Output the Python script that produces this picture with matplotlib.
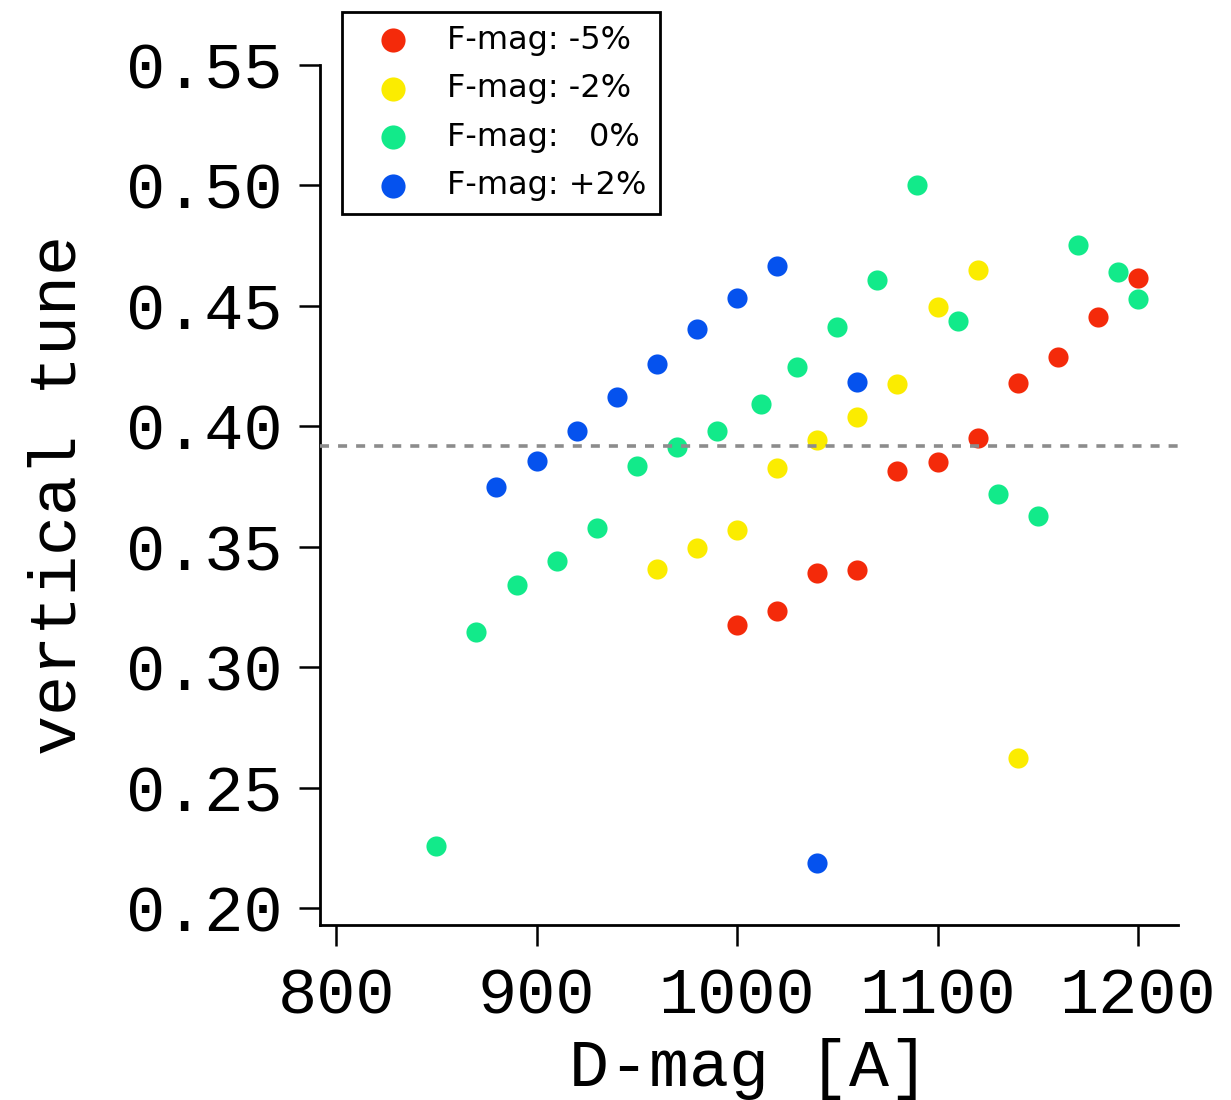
import matplotlib
matplotlib.use("Agg")
import matplotlib.pyplot as plt

# ---- data ----
red_x = [1000, 1020, 1040, 1060, 1080, 1100, 1120, 1140, 1160, 1180, 1200]
red_y = [0.3177, 0.3234, 0.3392, 0.3402, 0.3815, 0.3854, 0.3950, 0.4181, 0.4289, 0.4454, 0.4614]

yellow_x = [960, 980, 1000, 1020, 1040, 1060, 1080, 1100, 1120, 1140]
yellow_y = [0.3408, 0.3493, 0.3568, 0.3825, 0.3942, 0.4040, 0.4174, 0.4494, 0.4647, 0.2622]

green_x = [850, 870, 890, 910, 930, 950, 970, 990, 1012, 1030, 1050, 1070, 1090,
           1110, 1130, 1150, 1170, 1190, 1200]
green_y = [0.2257, 0.3147, 0.3343, 0.3440, 0.3577, 0.3836, 0.3915, 0.3980, 0.4092,
           0.4247, 0.4413, 0.4607, 0.5000, 0.4436, 0.3718, 0.3627, 0.4752, 0.4639, 0.4529]

blue_x = [880, 900, 920, 940, 960, 980, 1000, 1020, 1060, 1040]
blue_y = [0.3750, 0.3855, 0.3980, 0.4120, 0.4258, 0.4404, 0.4532, 0.4665, 0.4184, 0.2186]

labels = ["F-mag: -5%", "F-mag: -2%", "F-mag:   0%", "F-mag: +2%"]
ref_tune = 0.392

x_ticks = [800, 900, 1000, 1100, 1200]
y_ticks = [0.20, 0.25, 0.30, 0.35, 0.40, 0.45, 0.50, 0.55]

colors = {"red": "#f42a0a", "yellow": "#fbec00", "green": "#12ea8a", "blue": "#0552ee"}

fig = plt.figure(figsize=(12.31, 11), dpi=100)
ax = fig.add_axes([0.26, 0.159, 0.697, 0.782])

ms = 210
hg = ax.scatter(green_x, green_y, s=ms, color=colors["green"], label=labels[2], zorder=3, linewidths=0)
hy = ax.scatter(yellow_x, yellow_y, s=ms, color=colors["yellow"], label=labels[1], zorder=3, linewidths=0)
hb = ax.scatter(blue_x, blue_y, s=ms, color=colors["blue"], label=labels[3], zorder=3, linewidths=0)
hr = ax.scatter(red_x, red_y, s=ms, color=colors["red"], label=labels[0], zorder=3, linewidths=0)

ax.axhline(ref_tune, color="#8c8c8c", lw=2.6, ls=(0, (2.5, 2.5)), zorder=4)

ax.set_xlim(792, 1220)
ax.set_ylim(0.193, 0.55)
ax.set_xticks(x_ticks)
ax.set_yticks(y_ticks)
ax.set_yticklabels([f"{v:.2f}" for v in y_ticks])

for s in ["top", "right"]:
    ax.spines[s].set_visible(False)
for s in ["left", "bottom"]:
    ax.spines[s].set_linewidth(2)

mono = "Liberation Mono"
ax.tick_params(axis="both", direction="out", length=15, width=1.8)
ax.tick_params(axis="x", pad=15)
ax.tick_params(axis="y", pad=12)
for lab in ax.get_xticklabels() + ax.get_yticklabels():
    lab.set_fontfamily(mono)
    lab.set_fontsize(47)

ax.set_xlabel("D-mag [A]", fontfamily=mono, fontsize=48, labelpad=8)
ax.set_ylabel("vertical tune", fontfamily=mono, fontsize=48, labelpad=26)

leg = ax.legend(handles=[hr, hy, hg, hb], labels=labels, loc="upper left",
                bbox_to_anchor=(0.0256, 1.0616), borderaxespad=0,
                fancybox=False, edgecolor="black", framealpha=1,
                prop={"family": "DejaVu Sans", "size": 23},
                handletextpad=0.5, labelspacing=0.55, borderpad=0.4,
                handlelength=2.4, markerscale=1.2)
leg.get_frame().set_linewidth(2)
leg.set_zorder(10)

fig.savefig("out.png", dpi=100)
